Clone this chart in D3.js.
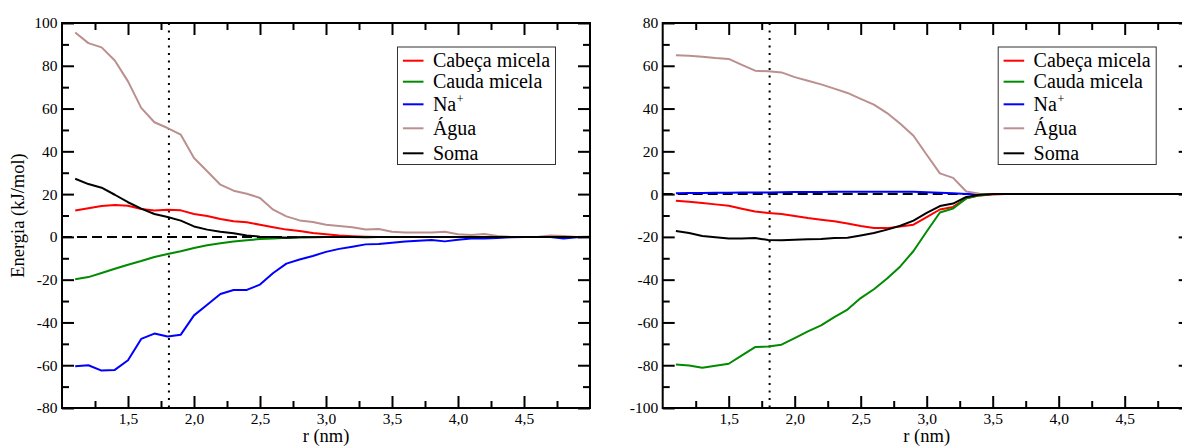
<!DOCTYPE html>
<html>
<head>
<meta charset="utf-8">
<script src="https://cdn.jsdelivr.net/npm/d3@7/dist/d3.min.js"></script>
<style>
    body { margin: 0; background: #fff; }
    svg, svg text { font-family: 'Liberation Serif', 'Times New Roman', Tinos, 'DejaVu Serif', serif; }
    .axis text { font-size: 15.5px; fill: #000; }
    .axis line { stroke: #000; stroke-width: 2; }
    .axis .domain { display: none; }
</style>
</head>
<body>
<script>
// distance r (nm), same sampling for both panels
var rValues = [1.1, 1.2, 1.3, 1.4, 1.5, 1.6, 1.7, 1.8, 1.9, 2.0,
    2.1, 2.2, 2.3, 2.4, 2.5, 2.6, 2.7, 2.8, 2.9, 3.0,
    3.1, 3.2, 3.3, 3.4, 3.5, 3.6, 3.7, 3.8, 3.9, 4.0,
    4.1, 4.2, 4.3, 4.4, 4.5, 4.6, 4.7, 4.8, 4.9, 5.0]

var legendLabels = ['Cabeça micela', 'Cauda micela', 'Na', 'Água', 'Soma']
var legendSup = ['', '', '+', '', '']
var seriesColors = ['#ff0000', '#008b00', '#0000ff', '#bc8f8f', '#000000']

// left panel (kJ/mol)
var leftCabeca = [12.3, 13.4, 14.4, 14.9, 14.6, 13.0, 12.3, 12.7, 12.4, 10.7,
    9.8, 8.4, 7.3, 6.8, 5.7, 4.5, 3.4, 2.8, 1.8, 1.2,
    0.6, 0.3, 0.1, 0, 0, 0, 0, 0, 0, 0,
    0, 0, 0, 0, 0, 0, 0, 0, 0, 0]
var leftCauda = [-19.8, -18.8, -16.9, -14.9, -13.0, -11.3, -9.4, -8.0, -6.7, -5.2,
    -3.9, -3.0, -2.2, -1.6, -1.0, -0.7, -0.4, -0.2, -0.1, 0,
    0, 0, 0, 0, 0, 0, 0, 0, 0, 0,
    0, 0, 0, 0, 0, 0, 0, 0, 0, 0]
var leftNa = [-60.5, -60.0, -62.5, -62.2, -57.7, -47.7, -45.2, -46.6, -45.7, -36.7,
    -31.7, -26.7, -24.8, -24.8, -22.3, -16.9, -12.5, -10.6, -8.9, -7.0,
    -5.6, -4.6, -3.5, -3.3, -2.7, -2.2, -1.8, -1.4, -2.1, -1.3,
    -0.7, -0.7, -0.5, -0.2, 0, 0, 0, -0.8, -0.2, 0]
var leftAgua = [95.6, 90.6, 88.6, 82.5, 72.7, 60.3, 53.6, 50.9, 47.8, 36.9,
    30.7, 24.4, 21.6, 20.2, 18.2, 12.7, 9.6, 7.7, 7.0, 5.7,
    5.1, 4.5, 3.5, 3.7, 2.4, 2.0, 2.0, 2.1, 2.4, 1.2,
    0.9, 1.4, 0.4, 0, 0, 0, 0.6, 0.4, 0, 0.2]
var leftSoma = [27.2, 24.7, 23.0, 19.7, 16.2, 13.2, 10.7, 9.3, 7.6, 4.9,
    3.4, 2.4, 1.7, 0.7, 0.1, 0, -0.4, -0.2, -0.2, 0,
    0, 0, -0.2, 0, 0, 0, 0, 0, 0, 0,
    0, 0, 0, 0, 0, 0, 0, 0, 0, 0]

// right panel (kJ/mol)
var rightCabeca = [-3.1, -3.6, -4.2, -4.8, -5.4, -6.8, -8.1, -8.8, -9.3, -10.2,
    -11.2, -12.0, -12.7, -13.7, -14.9, -15.8, -15.9, -15.1, -14.3, -10.8,
    -7.2, -6.0, -2.0, -0.6, -0.2, 0, 0, 0, 0, 0,
    0, 0, 0, 0, 0, 0, 0, 0, 0, 0]
var rightCauda = [-79.7, -80.1, -81.2, -80.2, -79.3, -75.4, -71.5, -71.3, -70.4, -67.3,
    -64.2, -61.4, -57.5, -54.0, -48.6, -44.5, -39.5, -33.8, -26.6, -17.5,
    -8.6, -6.7, -2.0, -0.6, 0, 0, 0, 0, 0, 0,
    0, 0, 0, 0, 0, 0, 0, 0, 0, 0]
var rightNa = [0.4, 0.5, 0.5, 0.6, 0.6, 0.7, 0.8, 0.8, 0.9, 1.0,
    1.0, 1.0, 1.1, 1.1, 1.1, 1.1, 1.1, 1.1, 1.1, 0.9,
    0.6, 0.4, 0.1, 0, 0, 0, 0, 0, 0, 0,
    0, 0, 0, 0, 0, 0, 0, 0, 0, 0]
var rightAgua = [64.9, 64.7, 64.2, 63.6, 63.2, 60.4, 57.7, 57.4, 56.9, 54.7,
    53.0, 51.3, 49.3, 47.3, 44.5, 41.8, 37.9, 32.9, 27.3, 18.4,
    9.7, 7.6, 1.2, 0.2, 0, 0, 0, 0, 0, 0,
    0, 0, 0, 0, 0, 0, 0, 0, 0, 0]
var rightSoma = [-17.3, -18.2, -19.6, -20.2, -20.7, -20.8, -20.5, -21.5, -21.6, -21.3,
    -21.1, -21.0, -20.5, -20.4, -19.3, -18.2, -16.6, -14.8, -12.4, -8.8,
    -5.6, -4.4, -1.3, -0.3, 0, 0, 0, 0, 0, 0,
    0, 0, 0, 0, 0, 0, 0, 0, 0, 0]

var xMajorTicks = [1.5, 2.0, 2.5, 3.0, 3.5, 4.0, 4.5]
var xMinorTicks = [1.25, 1.75, 2.25, 2.75, 3.25, 3.75, 4.25, 4.75]
var leftYMajor = [-80, -60, -40, -20, 0, 20, 40, 60, 80, 100]
var leftYMinor = [-70, -50, -30, -10, 10, 30, 50, 70, 90]
var rightYMajor = [-100, -80, -60, -40, -20, 0, 20, 40, 60, 80]
var rightYMinor = [-90, -70, -50, -30, -10, 10, 30, 50, 70]
var cutoffR = 1.81

var panelW = 528
var panelH = 385
var serif = "'Liberation Serif', 'Times New Roman', Tinos, 'DejaVu Serif', serif"

var commaFormat = function (d) { return d.toFixed(1).replace('.', ',') }

var svg = d3.select('body')
    .append('svg')
    .attr('width', 1182)
    .attr('height', 446)
    .attr('font-family', serif)

drawPanel({
    left: 62, top: 23,
    yDomain: [-80, 100], yMajor: leftYMajor, yMinor: leftYMinor,
    yLabel: 'Energia (kJ/mol)',
    series: [leftCabeca, leftCauda, leftNa, leftAgua, leftSoma]
})

drawPanel({
    left: 662.7, top: 23,
    yDomain: [-100, 80], yMajor: rightYMajor, yMinor: rightYMinor,
    yLabel: null,
    series: [rightCabeca, rightCauda, rightNa, rightAgua, rightSoma]
})

function drawPanel(cfg) {
    var g = svg.append('g')
        .attr('transform', 'translate(' + cfg.left + ',' + cfg.top + ')')

    var x = d3.scaleLinear().domain([1, 5]).range([0, panelW])
    var y = d3.scaleLinear().domain(cfg.yDomain).range([panelH, 0])

    // reference lines
    g.append('line')
        .attr('x1', 0).attr('x2', panelW)
        .attr('y1', y(0)).attr('y2', y(0))
        .attr('stroke', '#000').attr('stroke-width', 2)
        .attr('stroke-dasharray', '10,5')

    g.append('line')
        .attr('x1', x(cutoffR)).attr('x2', x(cutoffR))
        .attr('y1', 0).attr('y2', panelH)
        .attr('stroke', '#000').attr('stroke-width', 2)
        .attr('stroke-dasharray', '2,5.5')

    var line = d3.line()
        .x(function (d, i) { return x(rValues[i]) })
        .y(function (d) { return y(d) })

    cfg.series.forEach(function (values, i) {
        g.append('path')
            .datum(values)
            .attr('d', line)
            .attr('fill', 'none')
            .attr('stroke', seriesColors[i])
            .attr('stroke-width', 2)
            .attr('stroke-linejoin', 'round')
    })

    // ticks point inward on all four sides
    function addAxis(axis, transform, values, size, fmt) {
        var a = g.append('g')
            .attr('transform', transform)
            .call(axis.tickValues(values).tickSize(-size).tickFormat(fmt))
        a.attr('class', 'axis').attr('font-family', serif).attr('font-size', null)
    }
    var none = function () { return '' }

    addAxis(d3.axisBottom(x).tickPadding(5), 'translate(0,' + panelH + ')', xMajorTicks, 12, commaFormat)
    addAxis(d3.axisBottom(x), 'translate(0,' + panelH + ')', xMinorTicks, 7, none)
    addAxis(d3.axisTop(x), 'translate(0,0)', xMajorTicks, 12, none)
    addAxis(d3.axisTop(x), 'translate(0,0)', xMinorTicks, 7, none)
    addAxis(d3.axisLeft(y).tickPadding(4.5), 'translate(0,0)', cfg.yMajor, 12, d3.format('d'))
    addAxis(d3.axisLeft(y), 'translate(0,0)', cfg.yMinor, 7, none)
    addAxis(d3.axisRight(y), 'translate(' + panelW + ',0)', cfg.yMajor, 12, none)
    addAxis(d3.axisRight(y), 'translate(' + panelW + ',0)', cfg.yMinor, 7, none)

    g.selectAll('.axis text').text(function () { return this.textContent.replace('−', '-') })

    g.append('rect')
        .attr('width', panelW)
        .attr('height', panelH)
        .attr('fill', 'none')
        .attr('stroke', '#000')
        .attr('stroke-width', 2)

    g.append('text')
        .attr('x', panelW / 2)
        .attr('y', 419)
        .attr('text-anchor', 'middle')
        .style('font-size', '18.5px')
        .text('r (nm)')

    if (cfg.yLabel) {
        g.append('text')
            .attr('transform', 'translate(' + (24 - cfg.left) + ',' + panelH / 2 + ') rotate(-90)')
            .attr('text-anchor', 'middle')
            .style('font-size', '18.5px')
            .text(cfg.yLabel)
    }

    // legend
    var rowOffsets = [0, 21, 43.6, 67.6, 92.6]
    var legend = g.append('g')
        .attr('transform', 'translate(335.5,24)')

    legend.append('rect')
        .attr('width', 158)
        .attr('height', 117.5)
        .attr('fill', '#fff')
        .attr('stroke', '#333')
        .attr('stroke-width', 1)

    var rows = legend.selectAll('.row')
        .data(legendLabels)
        .enter().append('g')
        .attr('class', 'row')
        .attr('transform', function (d, i) { return 'translate(0,' + (13.7 + rowOffsets[i]) + ')' })

    rows.append('line')
        .attr('x1', 5.4).attr('x2', 26)
        .attr('stroke', function (d, i) { return seriesColors[i] })
        .attr('stroke-width', 2)

    rows.append('text')
        .attr('x', 35.4)
        .attr('y', 6.3)
        .style('font-size', '20px')
        .text(function (d) { return d })

    // superscript as its own text, placed just after the label
    rows.each(function (d, i) {
        if (!legendSup[i]) { return }
        var row = d3.select(this)
        var w = row.select('text').node().getComputedTextLength()
        row.append('text')
            .attr('x', 35.4 + w + 0.5)
            .attr('y', -1)
            .style('font-size', '12px')
            .text(legendSup[i])
    })
}
</script>
</body>
</html>
